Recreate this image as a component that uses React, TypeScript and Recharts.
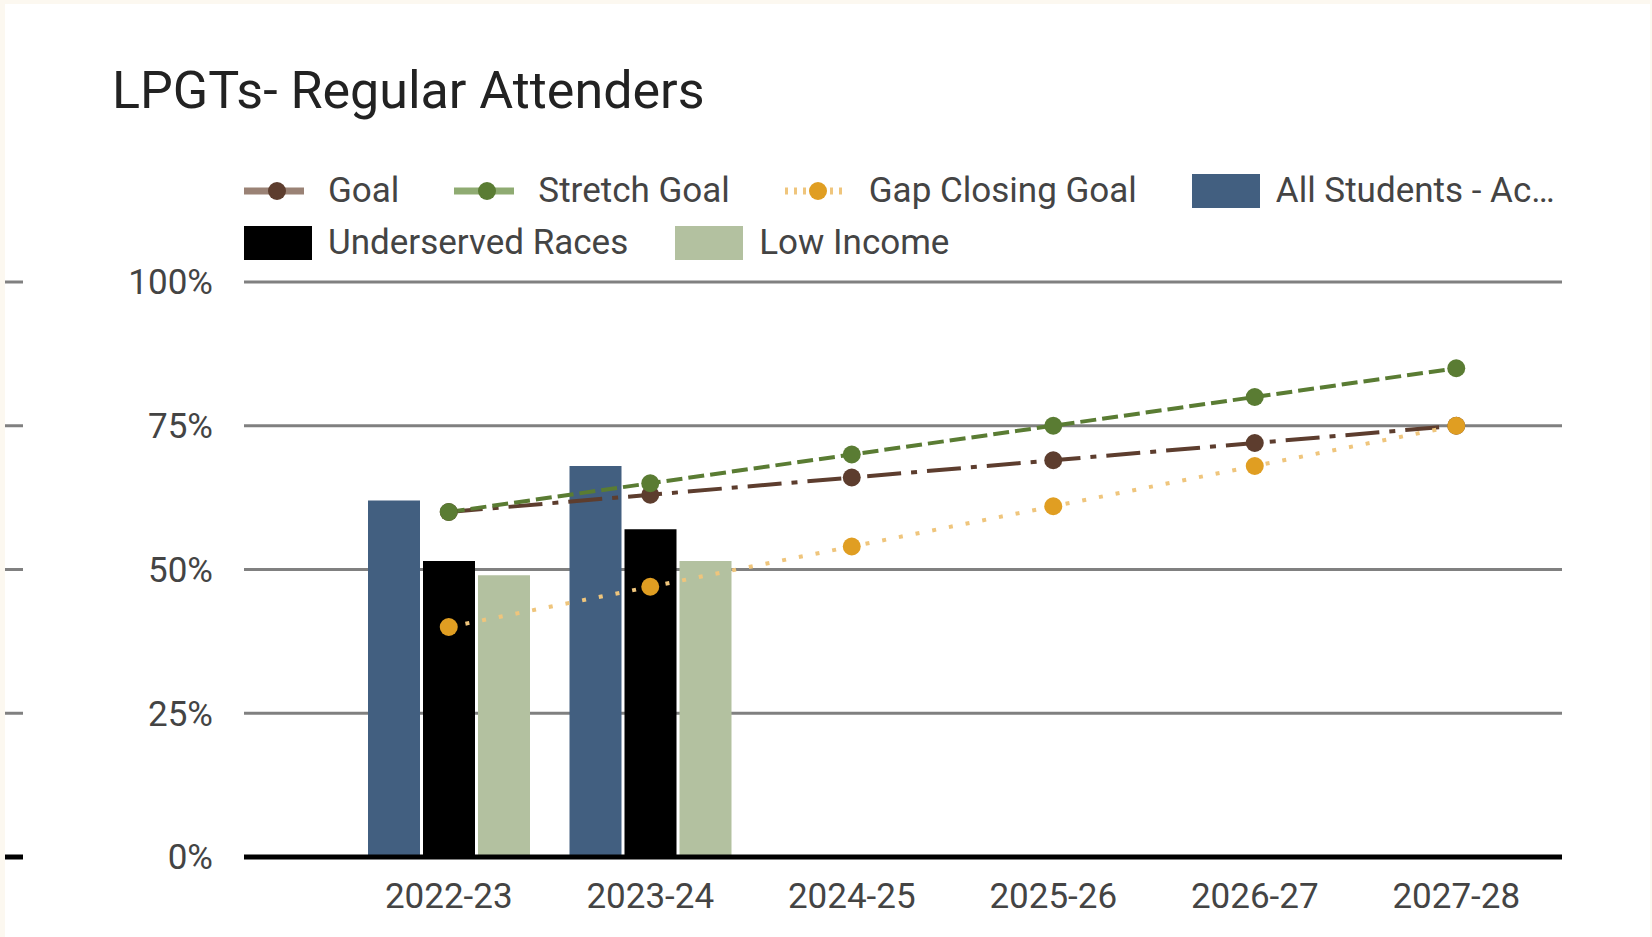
import React from 'react';
import { ComposedChart, Bar, Line, XAxis, YAxis, CartesianGrid, Legend } from 'recharts';

// school years on the x axis
const years = ['2022-23', '2023-24', '2024-25', '2025-26', '2026-27', '2027-28'];

// targets (percent)
const goal = [60, 63, 66, 69, 72, 75];
const stretchGoal = [60, 65, 70, 75, 80, 85];
const gapClosingGoal = [40, 47, 54, 61, 68, 75];

// actuals (percent), only the first two years reported
const allStudents = [62, 68, null, null, null, null];
const underservedRaces = [51.5, 57, null, null, null, null];
const lowIncome = [49, 51.5, null, null, null, null];

const yTicks = [0, 25, 50, 75, 100];

const data = years.map((year, i) => ({
  year,
  goal: goal[i],
  stretch: stretchGoal[i],
  gap: gapClosingGoal[i],
  all: allStudents[i],
  underserved: underservedRaces[i],
  lowIncome: lowIncome[i],
}));

const COLORS = {
  goal: '#5d3d2e',
  goalLight: '#9a8275',
  stretch: '#5a7c33',
  stretchLight: '#8fab72',
  gap: '#e09e22',
  gapLight: '#efc57c',
  all: '#425f80',
  underserved: '#000000',
  lowIncome: '#b3c1a0',
};

const FONT = 'Roboto, sans-serif';

type LegendItem = { label: string; kind: 'line' | 'box'; color: string; light?: string; dash?: string };

const legendRow1: LegendItem[] = [
  { label: 'Goal', kind: 'line', color: COLORS.goal, light: COLORS.goalLight },
  { label: 'Stretch Goal', kind: 'line', color: COLORS.stretch, light: COLORS.stretchLight },
  { label: 'Gap Closing Goal', kind: 'line', color: COLORS.gap, light: COLORS.gapLight, dash: '3 6' },
  { label: 'All Students - Actual', kind: 'box', color: COLORS.all },
];
const legendRow2: LegendItem[] = [
  { label: 'Underserved Races', kind: 'box', color: COLORS.underserved },
  { label: 'Low Income', kind: 'box', color: COLORS.lowIncome },
];

const LegendEntry = ({ item, last, gap }: { item: LegendItem; last?: boolean; gap: number }) => (
  <div style={{ display: 'flex', alignItems: 'center', marginRight: gap }}>
    <svg width={68} height={34} style={{ flex: 'none' }}>
      {item.kind === 'box' ? (
        <rect x={0} y={0} width={68} height={34} fill={item.color} />
      ) : (
        <g>
          <line x1={0} x2={60} y1={17} y2={17} stroke={item.light} strokeWidth={7} strokeDasharray={item.dash} />
          <circle cx={33} cy={17} r={9} fill={item.color} />
        </g>
      )}
    </svg>
    <span
      style={
        last
          ? { marginLeft: 16, lineHeight: '34px', whiteSpace: 'nowrap', overflow: 'hidden', textOverflow: 'ellipsis', maxWidth: 290 }
          : { marginLeft: 16, lineHeight: '34px', whiteSpace: 'nowrap' }
      }
    >
      {item.label}
    </span>
  </div>
);

const renderLegend = () => (
  <div style={{ fontFamily: FONT, fontSize: 35, color: '#444' }}>
    <div style={{ display: 'flex', height: 34 }}>
      {legendRow1.map((it, i) => (
        <LegendEntry key={it.label} item={it} gap={55} last={i === legendRow1.length - 1} />
      ))}
    </div>
    <div style={{ display: 'flex', height: 34, marginTop: 18 }}>
      {legendRow2.map((it) => (
        <LegendEntry key={it.label} item={it} gap={47} />
      ))}
    </div>
  </div>
);

// y tick label plus the short mark at the far left edge of the frame
const YTick = (props: any) => {
  const { x, y, payload } = props;
  const isZero = payload.value === 0;
  return (
    <g>
      <line
        x1={x - 208}
        x2={x - 190}
        y1={y}
        y2={y}
        stroke={isZero ? '#000' : '#808080'}
        strokeWidth={isZero ? 5 : 3}
      />
      <text x={x} y={y} dy="0.355em" textAnchor="end" fontFamily={FONT} fontSize={35} fill="#444">
        {`${payload.value}%`}
      </text>
    </g>
  );
};

const tickStyle = { fontFamily: FONT, fontSize: 35, fill: '#444' };

export default function App() {
  return (
    <div style={{ position: 'relative', width: 1652, height: 937, background: '#fcf8f0', overflow: 'hidden' }}>
      <style>{'body{margin:0;}'}</style>
      <div style={{ position: 'absolute', left: 5, top: 4, width: 1645, height: 933, background: '#ffffff' }}>
        <div
          style={{
            position: 'absolute',
            left: 107,
            top: 61,
            fontFamily: FONT,
            fontSize: 52,
            lineHeight: '52px',
            color: '#222',
            whiteSpace: 'nowrap',
          }}
        >
          LPGTs- Regular Attenders
        </div>
        <ComposedChart
          width={1645}
          height={933}
          data={data}
          margin={{ top: 278, right: 88, bottom: 20, left: 18 }}
          barSize={52}
          barGap={3}
        >
          <CartesianGrid vertical={false} stroke="#808080" strokeWidth={3} />
          <XAxis
            dataKey="year"
            padding={{ left: 104, right: 5 }}
            height={60}
            tickSize={0}
            tickMargin={26}
            tickLine={false}
            axisLine={{ stroke: '#000', strokeWidth: 5 }}
            tick={tickStyle}
          />
          <YAxis
            domain={[0, 100]}
            ticks={yTicks}
            width={221}
            tickSize={0}
            tickMargin={31}
            tickLine={false}
            axisLine={false}
            tick={<YTick />}
          />
          <Legend verticalAlign="middle" align="center" content={renderLegend} wrapperStyle={{ left: 239, top: 170, width: 1400 }} />
          <Bar dataKey="all" name="All Students - Actual" fill={COLORS.all} isAnimationActive={false} />
          <Bar dataKey="underserved" name="Underserved Races" fill={COLORS.underserved} isAnimationActive={false} />
          <Bar dataKey="lowIncome" name="Low Income" fill={COLORS.lowIncome} isAnimationActive={false} />
          <Line
            dataKey="goal"
            name="Goal"
            stroke={COLORS.goal}
            strokeWidth={4}
            strokeDasharray="34 10 6 10"
            dot={{ r: 9, fill: COLORS.goal, stroke: COLORS.goal, strokeWidth: 0, strokeDasharray: 'none' }}
            activeDot={false}
            isAnimationActive={false}
          />
          <Line
            dataKey="stretch"
            name="Stretch Goal"
            stroke={COLORS.stretch}
            strokeWidth={4}
            strokeDasharray="16 6"
            dot={{ r: 9, fill: COLORS.stretch, stroke: COLORS.stretch, strokeWidth: 0, strokeDasharray: 'none' }}
            activeDot={false}
            isAnimationActive={false}
          />
          <Line
            dataKey="gap"
            name="Gap Closing Goal"
            stroke={COLORS.gapLight}
            strokeWidth={4}
            strokeDasharray="4 13"
            dot={{ r: 9, fill: COLORS.gap, stroke: COLORS.gap, strokeWidth: 0, strokeDasharray: 'none' }}
            activeDot={false}
            isAnimationActive={false}
          />
        </ComposedChart>
      </div>
    </div>
  );
}
